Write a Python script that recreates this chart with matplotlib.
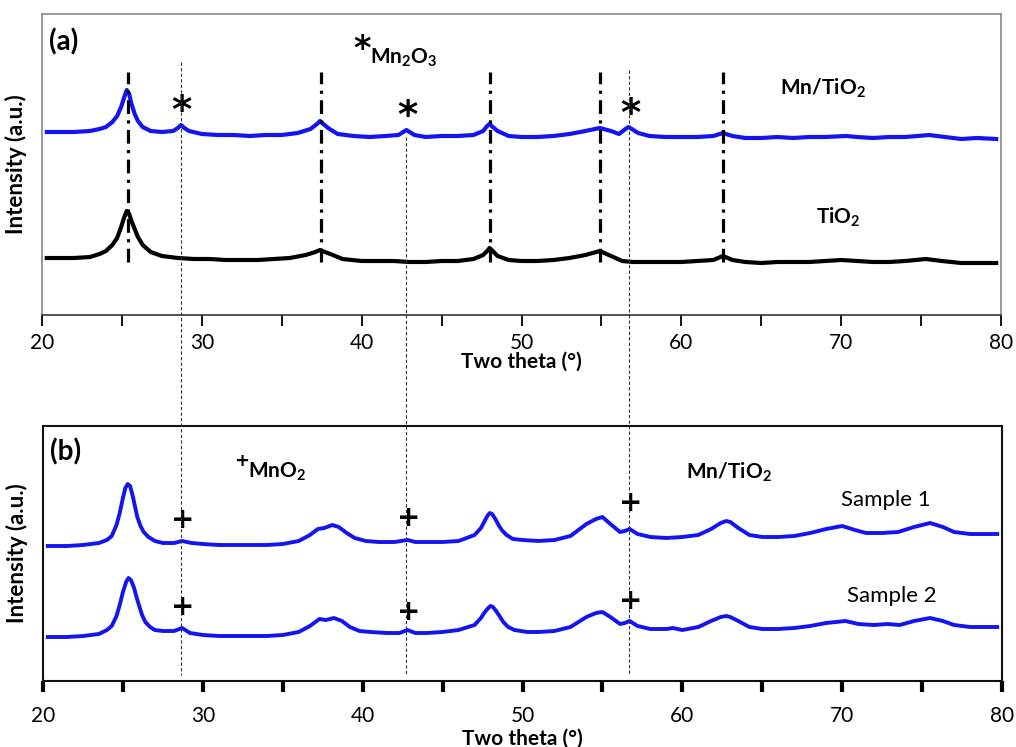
import numpy as np
import matplotlib
matplotlib.use("Agg")
import matplotlib.pyplot as plt
from matplotlib.lines import Line2D
from matplotlib.transforms import blended_transform_factory

plt.rcParams['font.family'] = ['Lato', 'DejaVu Sans']
plt.rcParams['mathtext.fontset'] = 'custom'
plt.rcParams['mathtext.rm'] = 'Lato'
plt.rcParams['mathtext.bf'] = 'Lato:bold'
plt.rcParams['mathtext.it'] = 'Lato:italic'

# ---------------- panel (a): Mn/TiO2 and TiO2 (a.u.) ----------------
theta_mn = [20.3, 21, 22, 23, 23.6, 24.0, 24.4, 24.7, 24.95, 25.15, 25.3, 25.45, 25.6,
            25.8, 26.0, 26.3, 26.8, 27.5, 28.2, 28.5, 28.7, 28.9, 29.2, 30, 31, 32, 33,
            34, 35, 36, 36.8, 37.2, 37.4, 37.6, 37.9, 38.5, 39.5, 40.5, 41.5, 42.3, 42.8,
            43.3, 44, 45, 46, 47, 47.6, 47.85, 48, 48.2, 48.5, 49.2, 50, 51, 52, 53, 54,
            54.9, 55.6, 56.1, 56.5, 56.7, 56.9, 57.3, 58, 59, 60, 61, 62, 62.6, 63.2, 64,
            65, 66, 67, 68, 69, 70.3, 71, 72, 73, 74, 75.5, 76.5, 77.5, 78.5, 79.7]
int_mn = [183, 183, 183, 184, 186, 188, 193, 199, 208, 218, 225, 221, 211,
          201, 194, 188, 184, 183, 184, 187, 190, 187, 184, 181, 180, 180, 179,
          180, 180, 182, 186, 191, 194, 191, 187, 181, 179, 178, 179, 180, 185,
          180, 178, 179, 179, 180, 184, 189, 191, 188, 184, 179, 178, 178, 179, 181, 184,
          187, 184, 181, 186, 188, 186, 182, 179, 178, 178, 178, 179, 182, 179, 177,
          177, 178, 177, 178, 178, 179, 178, 177, 178, 178, 180, 178, 176, 177, 176]

theta_ti = [20.3, 21, 22, 23, 23.6, 24.0, 24.4, 24.7, 24.95, 25.15, 25.3, 25.45, 25.6,
            25.8, 26.0, 26.3, 26.8, 27.5, 28.5, 29.5, 30.5, 31.5, 32.5, 33.5, 34.5, 35.5,
            36.5, 37.1, 37.4, 37.7, 38.2, 38.8, 40, 41, 42, 43, 44, 45, 46, 47, 47.6,
            47.85, 48, 48.2, 48.5, 49.2, 50, 51, 52, 53, 54, 54.9, 55.6, 56.3, 57, 58, 59,
            60, 61, 62, 62.6, 63.2, 64, 65, 66, 67, 68, 69, 70, 71, 72, 73, 74, 75.3,
            76.3, 77.5, 78.5, 79.7]
int_ti = [57, 57, 57, 58, 61, 64, 70, 77, 88, 98, 104, 101, 94,
          86, 78, 70, 63, 59, 57, 56, 56, 55, 55, 55, 56, 57,
          60, 63, 65, 63, 60, 56, 54, 54, 54, 53, 53, 54, 54, 56, 60,
          64, 67, 64, 59, 55, 54, 54, 55, 57, 60, 64, 59, 54, 53, 53, 53,
          53, 54, 55, 59, 55, 53, 52, 53, 53, 53, 54, 55, 54, 53, 53, 54, 56,
          54, 52, 52, 52]

# anatase reflections (dash-dot) and Mn oxide reflections (dotted guides)
anatase_pos = [25.35, 37.45, 48.0, 54.9, 62.6]
mnox_pos = [28.7, 42.8, 56.75]
star_y = [203, 198, 200]

# ---------------- panel (b): Sample 1 and Sample 2 (a.u.) ----------------
theta_s1 = [20.3, 21.5, 22.5, 23.5, 24.0, 24.3, 24.6, 24.8, 25.0, 25.15, 25.3, 25.45,
            25.6, 25.75, 25.9, 26.1, 26.3, 26.6, 27.0, 27.5, 28.2, 28.7, 29.3, 30, 31,
            32, 33, 34, 35, 36, 36.7, 37.2, 37.6, 38.1, 38.5, 39, 39.5, 40.2, 41, 42,
            42.8, 43.3, 44, 45, 46, 47.0, 47.4, 47.6, 47.8, 47.95, 48.1, 48.3, 48.5,
            48.7, 49.0, 49.4, 50, 51, 52, 53, 54, 54.6, 55.0, 55.5, 56.1, 56.4, 56.7,
            57.2, 58, 59, 60, 61, 61.8, 62.4, 62.75, 63.0, 63.5, 64.2, 65, 66, 67, 68,
            69, 70, 70.8, 71.5, 72.5, 73.5, 74.5, 75.5, 76.3, 77, 78, 79.7]
int_s1 = [135, 135, 136, 138, 141, 145, 156, 168, 183, 193, 197, 195,
          186, 175, 164, 155, 149, 144, 140, 138, 138, 140, 138, 137, 136,
          136, 136, 136, 137, 140, 146, 152, 153, 156, 154, 148, 143, 140, 139, 139,
          141, 139, 139, 139, 140, 146, 153, 159, 165, 168, 167, 162, 156,
          151, 146, 142, 141, 140, 141, 145, 157, 162, 164, 157, 149, 150, 152,
          147, 144, 143, 144, 146, 152, 158, 160, 159, 153, 146, 144, 144, 145, 148,
          152, 155, 151, 148, 148, 149, 154, 158, 154, 149, 147, 147]

theta_s2 = [20.3, 21.5, 22.5, 23.5, 24.0, 24.3, 24.6, 24.8, 25.0, 25.2, 25.35, 25.5,
            25.7, 25.85, 26.0, 26.2, 26.4, 26.7, 27.0, 27.5, 28.2, 28.7, 29.2, 30, 31,
            32, 33, 34, 35, 36, 36.7, 37.3, 37.7, 38.2, 38.7, 39.2, 39.8, 40.5, 41.5,
            42.3, 42.8, 43.3, 44, 45, 46, 47.0, 47.4, 47.6, 47.8, 48.0, 48.15, 48.35,
            48.6, 48.8, 49.1, 49.5, 50.3, 51, 52, 53, 54, 54.6, 55.0, 55.5, 56.1, 56.4,
            56.7, 57.2, 58, 59, 59.4, 60, 61, 61.8, 62.4, 62.75, 63.0, 63.5, 64.2, 65,
            66, 67, 68, 69, 70.2, 71, 72, 72.8, 73.6, 74.5, 75.5, 76.3, 77, 78, 79.7]
int_s2 = [44, 44, 45, 47, 51, 55, 65, 76, 89, 99, 103, 101,
          93, 84, 76, 66, 59, 54, 51, 50, 50, 53, 48, 46, 45,
          45, 45, 45, 46, 49, 55, 62, 61, 63, 60, 54, 50, 49, 48,
          48, 51, 48, 48, 49, 51, 56, 63, 68, 72, 75, 74, 70,
          64, 59, 54, 51, 49, 49, 50, 54, 64, 68, 69, 64, 57, 58,
          60, 55, 52, 52, 53, 51, 54, 60, 64, 65, 64, 60, 54, 52,
          52, 53, 55, 58, 60, 57, 56, 57, 56, 60, 63, 60, 56, 54, 54]

plus_y1 = [161, 163, 178]
plus_y2 = [74, 69, 80]

W, H = 1016, 747
fig = plt.figure(figsize=(W / 100, H / 100), dpi=100)


def px_box(left, top, right, bottom):
    return [left / W, 1 - bottom / H, (right - left) / W, (bottom - top) / H]


ax_a = fig.add_axes(px_box(42, 14, 1001, 315))
ax_b = fig.add_axes(px_box(43, 426, 1002, 681))

blue = '#1414f0'

# panel (a)
ax_a.plot(theta_mn, int_mn, color=blue, lw=3.0, solid_joinstyle='round')
ax_a.plot(theta_ti, int_ti, color='black', lw=3.0, solid_joinstyle='round')
for p in anatase_pos:
    ax_a.plot([p, p], [53, 243], color='black', lw=2.3,
              linestyle=(0, (4.3, 2, 1, 2)))
for p, y in zip(mnox_pos, star_y):
    ax_a.text(p + 0.05, y, '*', fontsize=28, fontweight='bold', ha='center',
              va='center', family=['DejaVu Sans'])
ax_a.set_xlim(20, 80)
ax_a.set_ylim(0, 301)
ax_a.text(20.45, 273, '(a)', fontsize=20, fontweight='bold', va='center')
ax_a.text(40.05, 266, '*', fontsize=24, fontweight='bold', ha='center',
          va='center', family=['DejaVu Sans'])
ax_a.text(40.55, 257, r'$\mathbf{Mn_2O_3}$', fontsize=15, va='center')
ax_a.text(66.2, 227, r'$\mathbf{Mn/TiO_2}$', fontsize=15, va='center')
ax_a.text(68.4, 98, r'$\mathbf{TiO_2}$', fontsize=15, va='center')

for s in ['top', 'right', 'left']:
    ax_a.spines[s].set_color('#8a8a8a')
    ax_a.spines[s].set_linewidth(1.2)
ax_a.spines['bottom'].set_color('#333333')
ax_a.spines['bottom'].set_linewidth(1.2)

# panel (b)
ax_b.plot(theta_s1, int_s1, color=blue, lw=2.8, solid_joinstyle='round')
ax_b.plot(theta_s2, int_s2, color=blue, lw=2.8, solid_joinstyle='round')
for p, y1, y2 in zip(mnox_pos, plus_y1, plus_y2):
    ax_b.text(p + 0.05, y1, '+', fontsize=20, fontweight='bold', ha='center',
              va='center', family=['DejaVu Sans'])
    ax_b.text(p + 0.05, y2, '+', fontsize=20, fontweight='bold', ha='center',
              va='center', family=['DejaVu Sans'])
ax_b.set_xlim(20, 80)
ax_b.set_ylim(0, 255)
ax_b.text(20.45, 229, '(b)', fontsize=20, fontweight='bold', va='center')
ax_b.text(32.4, 220, '+', fontsize=13, fontweight='bold', ha='center',
          va='center', family=['DejaVu Sans'])
ax_b.text(32.85, 209, r'$\mathbf{MnO_2}$', fontsize=15, va='center')
ax_b.text(60.25, 209, r'$\mathbf{Mn/TiO_2}$', fontsize=15, va='center')
ax_b.text(69.95, 181, 'Sample 1', fontsize=16, va='center')
ax_b.text(70.3, 85, 'Sample 2', fontsize=16, va='center')

for s in ['top', 'right', 'left', 'bottom']:
    ax_b.spines[s].set_color('#111111')
    ax_b.spines[s].set_linewidth(1.5)

# shared axis styling
for ax, tw, pad, lab_y in [(ax_a, 1.3, 5, (315 - 352) / 301),
                           (ax_b, 3.0, 10, (681 - 729) / 255)]:
    ax.set_xticks(np.arange(20, 81, 10))
    ax.set_xticks(np.arange(25, 80, 10), minor=True)
    ax.tick_params(axis='x', which='both', direction='out', length=8, width=tw,
                   labelsize=15, pad=pad)
    ax.set_yticks([])
    ax.set_xlabel('Two theta (°)', fontsize=15, fontweight='bold')
    ax.xaxis.set_label_coords(0.5, lab_y)
    ax.set_ylabel('Intensity (a.u.)', fontsize=16, fontweight='bold')
    ax.yaxis.set_label_coords(-0.016, 0.5)

# thin dashed guides crossing both panels
trans = blended_transform_factory(ax_a.transData, fig.transFigure)
for p, top_px in zip(mnox_pos, [62, 137, 70]):
    ln = Line2D([p, p], [1 - top_px / H, 1 - 675 / H], transform=trans,
                color='#333333', lw=0.8, linestyle=(0, (3, 2)))
    fig.add_artist(ln)

fig.savefig('out.png', dpi=100)
